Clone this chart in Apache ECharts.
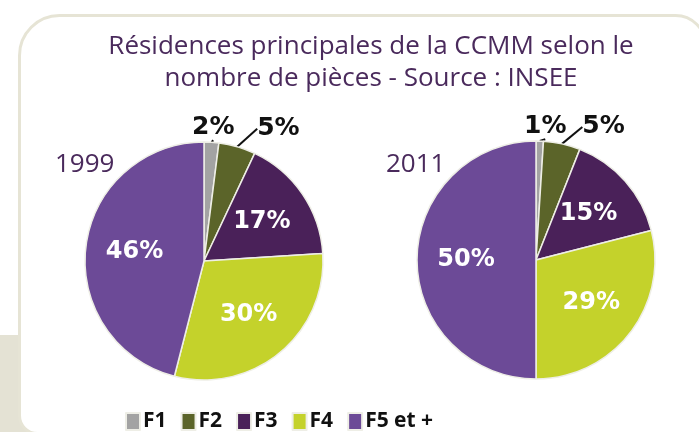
<!DOCTYPE html>
<html>
<head>
<meta charset="utf-8">
<script src="https://cdn.jsdelivr.net/npm/echarts@6/dist/echarts.min.js"></script>
<style>
  html, body { margin: 0; padding: 0; background: #fff; }
  #chart { width: 699px; height: 432px; }
</style>
</head>
<body>
<div id="chart"></div>
<script>
  const categories = ['F1', 'F2', 'F3', 'F4', 'F5 et +'];
  const years = ['1999', '2011'];
  const values1999 = [2, 5, 17, 30, 46];
  const values2011 = [1, 5, 15, 29, 50];
  const colors = ['#a3a3a3', '#5b6429', '#4a2159', '#c4d22b', '#6c4a97'];

  const titleText = 'Résidences principales de la CCMM selon le\nnombre de pièces - Source : INSEE';
  const purple = '#4a2a5c';
  const numFont = 'DejaVu Sans';
  const textFont = 'Open Sans';

  function buildData(values) {
    return values.map((v, i) => {
      const item = { name: categories[i], value: v, itemStyle: { color: colors[i] } };
      if (i < 2) {
        item.label = {
          position: 'outside',
          color: '#111',
          fontSize: 25,
        };
        item.labelLine = {
          show: true,
          length: 6,
          length2: 0,
          lineStyle: { color: '#111', width: 2 },
        };
      }
      return item;
    });
  }

  // small slices get their labels above the pie, the others sit a bit further out
  function makeLabelLayout(center) {
    return function (params) {
      if (params.dataIndex === 0) {
        return {
          x: params.rect.x + 10,
          y: params.rect.y - 1,
          align: 'center',
          verticalAlign: 'bottom',
        };
      }
      if (params.dataIndex === 1) {
        return {
          x: params.rect.x + params.rect.width + 23,
          y: params.rect.y - 1,
          align: 'center',
          verticalAlign: 'bottom',
        };
      }
      const r = params.labelRect;
      const lx = r.x + r.width / 2;
      const ly = r.y + r.height / 2;
      return {
        dx: (lx - center[0]) * 0.12,
        dy: (ly - center[1]) * 0.12,
      };
    };
  }

  function pieSeries(values, center) {
    return {
      type: 'pie',
      radius: 119,
      center: center,
      startAngle: 90,
      clockwise: true,
      animation: false,
      silent: true,
      data: buildData(values),
      itemStyle: {
        borderColor: '#eeeee6',
        borderWidth: 1.5,
      },
      label: {
        show: true,
        position: 'inside',
        formatter: '{c}%',
        color: '#fff',
        fontFamily: numFont,
        fontWeight: 'bold',
        fontSize: 24,
      },
      labelLine: { show: false },
      labelLayout: makeLabelLayout(center),
    };
  }

  const chart = echarts.init(document.getElementById('chart'));
  chart.setOption({
    backgroundColor: '#fff',
    graphic: [
      {
        type: 'rect',
        z: -10,
        shape: { x: 0, y: 335, width: 40, height: 97 },
        style: { fill: '#e4e2d4' },
      },
      {
        type: 'rect',
        z: -9,
        shape: { x: 19.5, y: 15.5, width: 686, height: 418, r: [40, 30, 0, 18] },
        style: { fill: '#fff', stroke: '#e6e4d5', lineWidth: 3 },
      },
    ],
    title: [
      {
        text: titleText,
        left: 366,
        top: 26,
        textAlign: 'center',
        textStyle: {
          color: purple,
          fontFamily: textFont,
          fontWeight: 'normal',
          fontSize: 26,
          lineHeight: 32,
        },
      },
      {
        text: years[0],
        left: 50,
        top: 147,
        textStyle: { color: purple, fontFamily: textFont, fontWeight: 'normal', fontSize: 26 },
      },
      {
        text: years[1],
        left: 381,
        top: 147,
        textStyle: { color: purple, fontFamily: textFont, fontWeight: 'normal', fontSize: 26 },
      },
    ],
    legend: {
      data: categories,
      left: 125,
      top: 411,
      padding: 0,
      icon: 'rect',
      itemWidth: 14,
      itemHeight: 17,
      itemGap: 14,
      selectedMode: false,
      textStyle: {
        color: '#111',
        fontFamily: textFont,
        fontWeight: 'bold',
        fontSize: 21,
        padding: [0, 0, 0, -2],
      },
    },
    series: [
      pieSeries(values1999, [204, 261]),
      pieSeries(values2011, [536, 260]),
    ],
  });
</script>
</body>
</html>
